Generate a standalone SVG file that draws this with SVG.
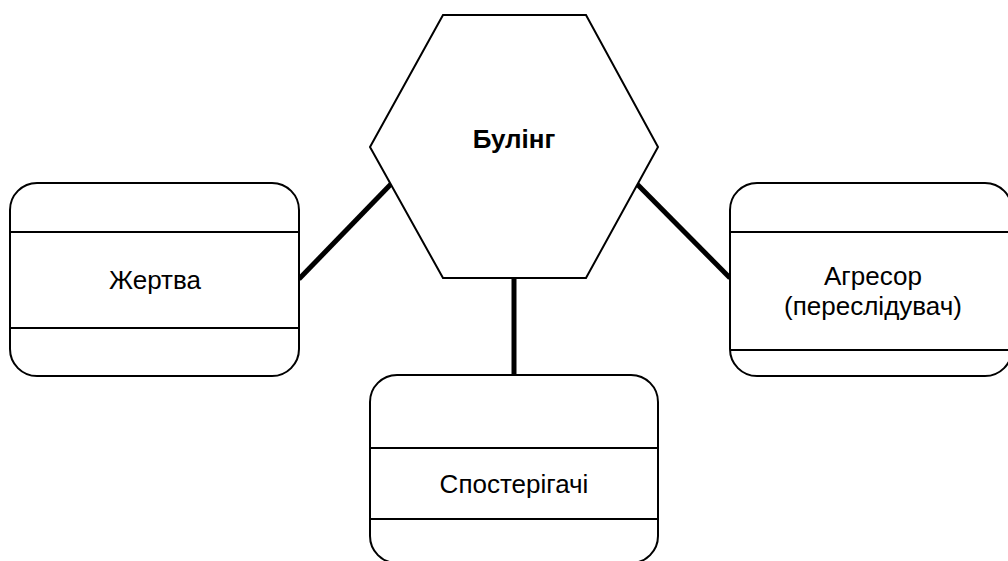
<svg xmlns="http://www.w3.org/2000/svg" width="1008" height="561" viewBox="0 0 1008 561">
<style>
.shape{fill:#fff;stroke:#000;stroke-width:2}
.div{stroke:#000;stroke-width:2;fill:none}
.conn{stroke:#000;stroke-width:5;fill:none}
.lbl{font-family:"Liberation Sans",Arial,sans-serif;font-size:26px;fill:#000;text-anchor:middle}
.bold{font-weight:bold}
</style>
<rect width="1008" height="561" fill="#fff"/>
<g id="connectors">
<line class="conn" x1="392" y1="183" x2="299" y2="279"/>
<line class="conn" x1="636" y1="183" x2="730" y2="278"/>
<line class="conn" x1="514" y1="279" x2="514" y2="375"/>
</g>
<g id="bulling">
<polygon class="shape" points="443,15 586,15 658,147 586,278 443,278 370,147"/>
<text class="lbl bold" x="514" y="148">Булінг</text>
</g>
<g id="zhertva">
<rect class="shape" x="10" y="183" width="289" height="193" rx="27" ry="27"/>
<line class="div" x1="10" y1="232" x2="299" y2="232"/>
<line class="div" x1="10" y1="328" x2="299" y2="328"/>
<text class="lbl" x="155" y="289">Жертва</text>
</g>
<g id="agresor">
<rect class="shape" x="730" y="183" width="282" height="193" rx="27" ry="27"/>
<line class="div" x1="730" y1="232" x2="1008" y2="232"/>
<line class="div" x1="730" y1="350" x2="1008" y2="350"/>
<text class="lbl" x="873" y="285">Агресор</text>
<text class="lbl" x="873" y="315">(переслідувач)</text>
</g>
<g id="sposterigachi">
<rect class="shape" x="370" y="375" width="288" height="188" rx="27" ry="27"/>
<line class="div" x1="370" y1="448" x2="658" y2="448"/>
<line class="div" x1="370" y1="519" x2="658" y2="519"/>
<text class="lbl" x="514" y="493">Спостерігачі</text>
</g>
</svg>
